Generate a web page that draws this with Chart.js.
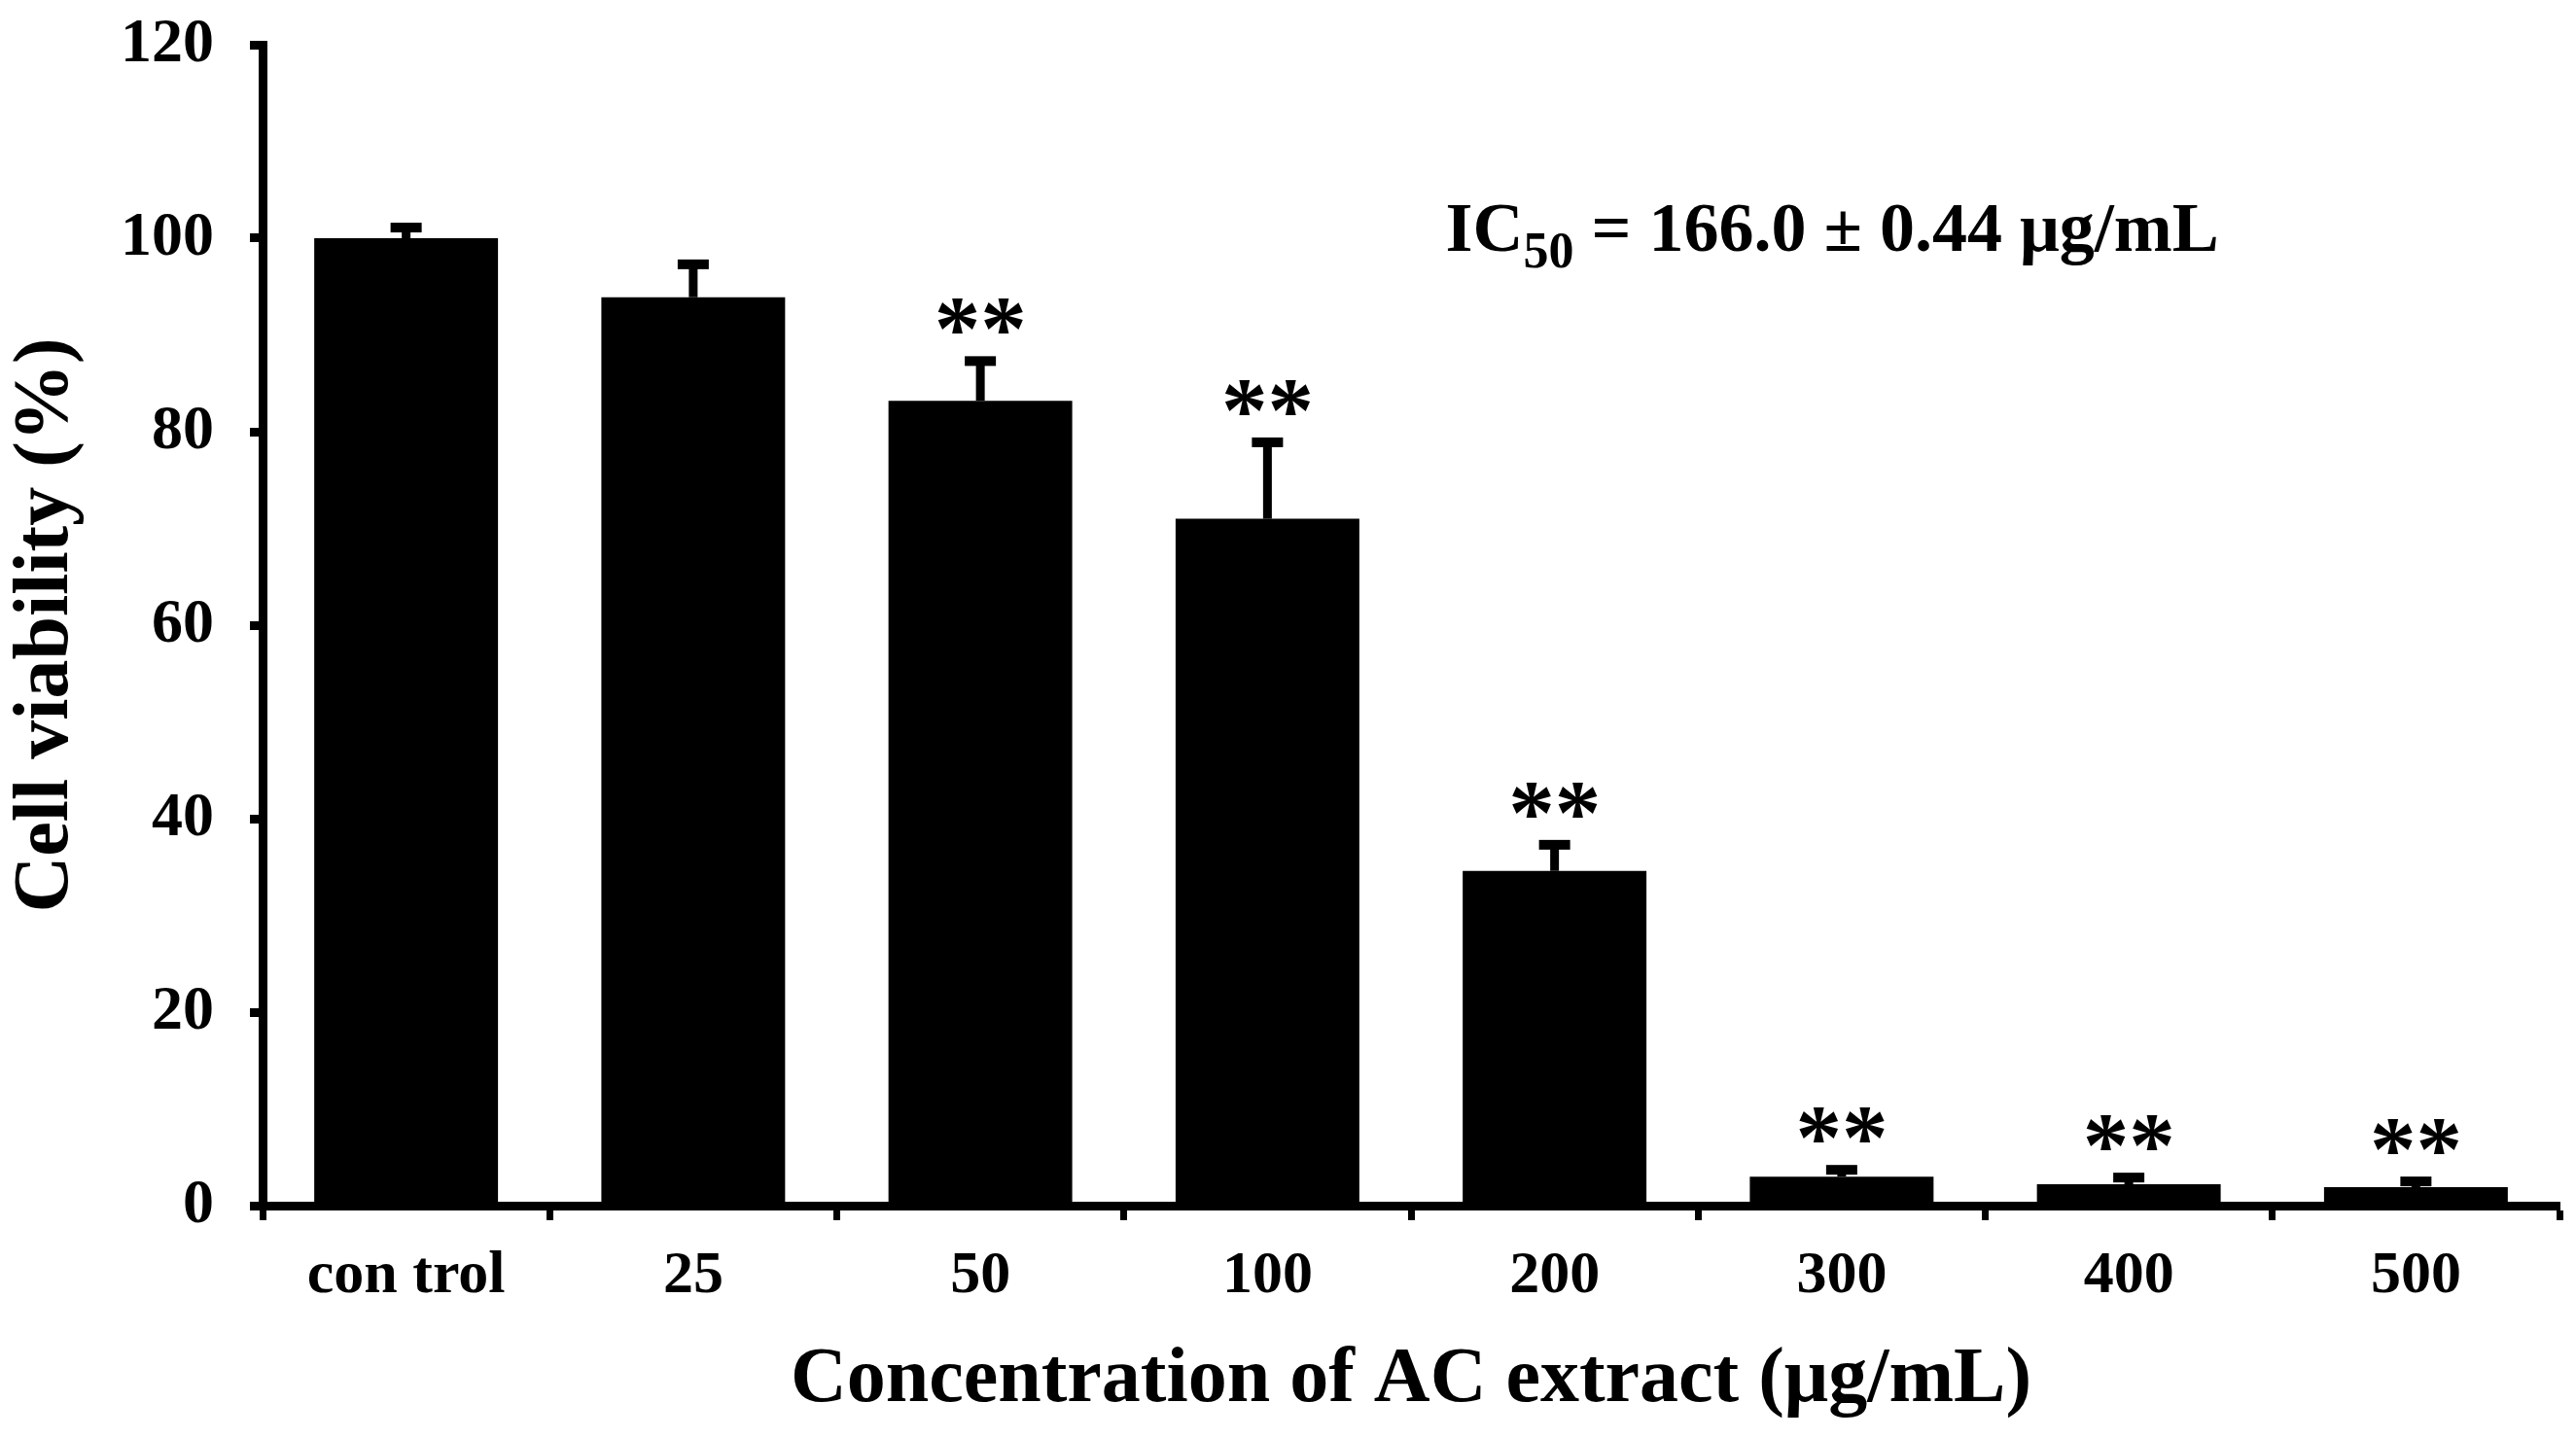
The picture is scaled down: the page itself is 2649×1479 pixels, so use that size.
<!DOCTYPE html>
<html>
<head>
<meta charset="utf-8">
<script src="https://cdn.jsdelivr.net/npm/chart.js@4.4.1/dist/chart.umd.min.js"></script>
<style>
  html, body { margin: 0; padding: 0; background: #fff; }
  canvas { display: block; }
</style>
</head>
<body>
<canvas id="grafico" width="2649" height="1479"></canvas>
<script>
// categorías y valores
const concentraciones = ["con trol", "25", "50", "100", "200", "300", "400", "500"];
const viabilidad = [100, 93.9, 83.2, 71.0, 34.6, 3.0, 2.2, 1.9];
const desviacion = [1.1, 3.4, 4.1, 7.9, 2.7, 0.7, 0.7, 0.6];
const significancia = ["", "", "**", "**", "**", "**", "**", "**"];
const ticksY = [0, 20, 40, 60, 80, 100, 120];
const textoIC = ["IC", "50", " = 166.0 ± 0.44 μg/mL"];

const fuente = "'Liberation Serif', 'Times New Roman', serif";

// barras de error, asteriscos y texto IC50
const extras = {
  id: "extras",
  afterDatasetsDraw(chart) {
    const { ctx, scales: { x, y } } = chart;
    const meta = chart.getDatasetMeta(0);
    ctx.save();
    ctx.fillStyle = "#000";
    meta.data.forEach((barra, i) => {
      const tope = y.getPixelForValue(viabilidad[i] + desviacion[i]);
      ctx.fillRect(barra.x - 4.5, tope, 9, barra.y - tope);
      ctx.fillRect(barra.x - 16, tope - 5, 32, 10);
      if (significancia[i]) {
        ctx.font = `bold 95px ${fuente}`;
        ctx.textAlign = "center";
        ctx.textBaseline = "alphabetic";
        ctx.fillText(significancia[i], barra.x, tope - 1);
      }
    });

    // anotación IC50
    let px = x.getPixelForValue(3.62);
    const py = y.getPixelForValue(98.7);
    ctx.textAlign = "left";
    ctx.textBaseline = "alphabetic";
    ctx.font = `bold 72px ${fuente}`;
    ctx.fillText(textoIC[0], px, py);
    px += ctx.measureText(textoIC[0]).width;
    ctx.font = `bold 52px ${fuente}`;
    ctx.fillText(textoIC[1], px, py + 17);
    px += ctx.measureText(textoIC[1]).width;
    ctx.font = `bold 72px ${fuente}`;
    ctx.fillText(textoIC[2], px, py);
    ctx.restore();
  }
};

const ctx = document.getElementById("grafico").getContext("2d");
new Chart(ctx, {
  type: "bar",
  data: {
    labels: concentraciones,
    datasets: [{
      data: viabilidad,
      backgroundColor: "#000",
      borderWidth: 0,
      barPercentage: 0.64,
      categoryPercentage: 1
    }]
  },
  options: {
    responsive: false,
    devicePixelRatio: 1,
    animation: false,
    layout: { padding: { top: 46, right: 17, left: 0, bottom: 0 } },
    plugins: { legend: { display: false }, tooltip: { enabled: false } },
    scales: {
      x: {
        grid: { display: true, drawOnChartArea: false, drawTicks: true, tickLength: 15, tickWidth: 7, tickColor: "#000", offset: true },
        border: { display: true, color: "#000", width: 9 },
        ticks: { color: "#000", font: { family: fuente, weight: "bold", size: 62 }, padding: 21, maxRotation: 0, autoSkip: false },
        title: {
          display: true,
          text: "Concentration of AC extract (μg/mL)",
          color: "#000",
          font: { family: fuente, weight: "bold", size: 80 },
          padding: { top: 0, bottom: 11 }
        },
        afterFit(escala) { escala.height = 239; }
      },
      y: {
        min: 0,
        max: 120,
        afterBuildTicks(escala) { escala.ticks = ticksY.map(v => ({ value: v })); },
        grid: { display: true, drawOnChartArea: false, drawTicks: true, tickLength: 13, tickWidth: 9, tickColor: "#000" },
        border: { display: true, color: "#000", width: 9 },
        ticks: { color: "#000", font: { family: fuente, weight: "bold", size: 64 }, padding: 37 },
        title: {
          display: true,
          text: "Cell viability (%)",
          color: "#000",
          font: { family: fuente, weight: "bold", size: 80 },
          padding: { top: 0, bottom: 0 }
        },
        afterFit(escala) {
          escala.width = 270;
          escala.paddingTop = 0;
          escala.paddingBottom = 0;
        }
      }
    }
  },
  plugins: [extras]
});
</script>
</body>
</html>
